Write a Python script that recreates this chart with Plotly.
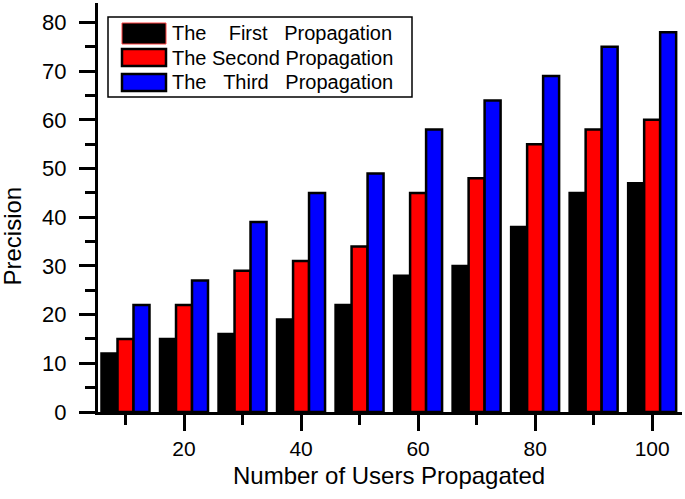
import plotly.graph_objects as go

# ---- data ----
users = [10, 20, 30, 40, 50, 60, 70, 80, 90, 100]
first_prop = [12, 15, 16, 19, 22, 28, 30, 38, 45, 47]
second_prop = [15, 22, 29, 31, 34, 45, 48, 55, 58, 60]
third_prop = [22, 27, 39, 45, 49, 58, 64, 69, 75, 78]
series_names = ["The First Propagation", "The Second Propagation", "The Third Propagation"]
legend_labels = [
    "The\u00a0\u00a0\u00a0\u00a0First\u00a0\u00a0\u00a0Propagation",
    "The Second Propagation",
    "The\u00a0\u00a0\u00a0Third\u00a0\u00a0\u00a0Propagation",
]
colors = ["#000000", "#ff0000", "#0000ff"]
x_title = "Number of Users Propagated"
y_title = "Precision"

FONT = "Liberation Sans, Arial, sans-serif"
W, H = 685, 499
ML, MR, MT, MB = 98, 3, 3, 87
PW = W - ML - MR
PH = H - MT - MB

def px_x(p):
    return (p - ML) / PW

def px_y(p):
    return (H - MB - p) / PH

fig = go.Figure()
for name, vals, c in zip(series_names, [first_prop, second_prop, third_prop], colors):
    fig.add_trace(go.Bar(
        x=users, y=vals, name=name, showlegend=False,
        marker=dict(color=c, line=dict(color="black", width=2.5)),
    ))

# custom legend (box, swatches, labels)
shapes = [dict(type="rect", xref="paper", yref="paper",
               x0=px_x(108), x1=px_x(412), y0=px_y(97), y1=px_y(17),
               line=dict(color="black", width=1.5), fillcolor="white", layer="above")]
rows = [(23, 44, 33), (49, 66, 58), (74, 91, 82)]
annotations = []
for i, ((t, b, cy), lab, c) in enumerate(zip(rows, legend_labels, colors)):
    shapes.append(dict(type="rect", xref="paper", yref="paper",
                       x0=px_x(122), x1=px_x(166), y0=px_y(b), y1=px_y(t),
                       fillcolor=c,
                       line=dict(color="#ff4040" if i == 0 else "black",
                                 width=1 if i == 0 else 2.5),
                       layer="above"))
    annotations.append(dict(xref="paper", yref="paper", x=px_x(170), y=px_y(cy),
                            xanchor="left", yanchor="middle", showarrow=False,
                            text=lab, font=dict(family=FONT, size=20, color="black")))

annotations.append(dict(xref="paper", yref="paper", x=px_x(12), y=px_y(236.5),
                        xanchor="center", yanchor="middle", showarrow=False,
                        textangle=-90, text=y_title,
                        font=dict(family=FONT, size=24, color="black")))
annotations.append(dict(xref="paper", yref="paper", x=px_x(389), y=px_y(475.5),
                        xanchor="center", yanchor="middle", showarrow=False,
                        text=x_title,
                        font=dict(family=FONT, size=24, color="black")))

fig.update_layout(
    width=W, height=H,
    margin=dict(l=ML, r=MR, t=MT, b=MB),
    paper_bgcolor="white", plot_bgcolor="white",
    barmode="group", bargap=0.18, bargroupgap=0,
    font=dict(family=FONT, color="black"),
    shapes=shapes, annotations=annotations,
    xaxis=dict(
        range=[5.3, 105.1], tick0=0, dtick=20,
        ticks="outside", ticklen=16, tickwidth=3, tickcolor="black",
        minor=dict(dtick=10, tick0=0, ticks="outside", ticklen=10, tickwidth=3, tickcolor="black"),
        showline=True, linewidth=3, linecolor="black",
        showgrid=False, zeroline=False,
        tickfont=dict(family=FONT, size=21, color="black"),
        ticklabelstandoff=0,
    ),
    yaxis=dict(
        range=[0, 84], tick0=0, dtick=10,
        ticks="outside", ticklen=16, tickwidth=3, tickcolor="black",
        minor=dict(dtick=5, tick0=0, ticks="outside", ticklen=10, tickwidth=3, tickcolor="black"),
        showline=True, linewidth=3, linecolor="black",
        showgrid=False, zeroline=False,
        tickfont=dict(family=FONT, size=22, color="black"),
        ticklabelstandoff=8,
    ),
)

fig.write_html("out.html", config={"displayModeBar": False},
               post_script="document.body.style.margin='0';")
